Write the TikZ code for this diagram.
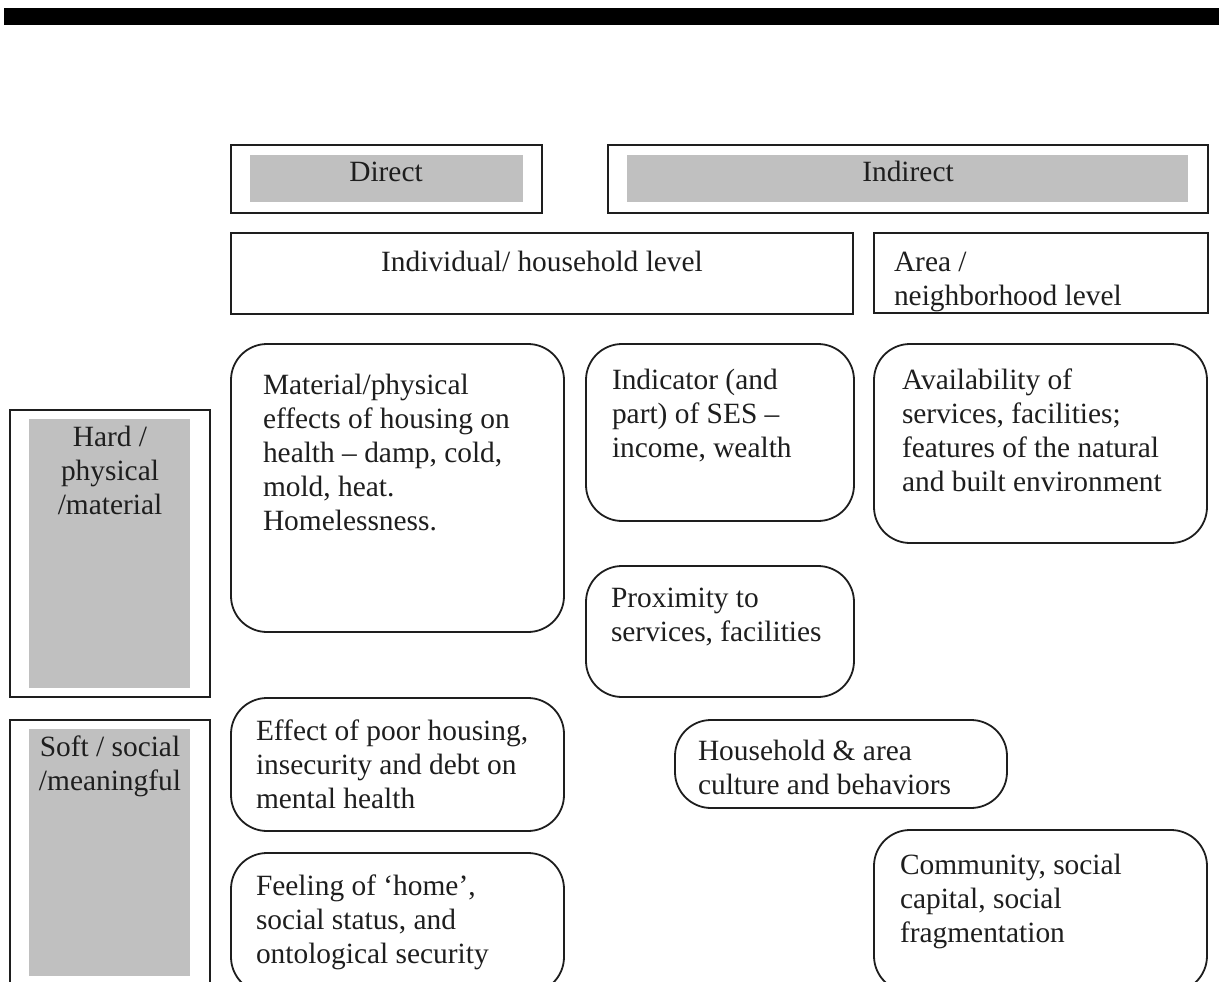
\documentclass[tikz,border=0pt]{standalone}
\usepackage{fontspec}
\setmainfont{Liberation Serif}
\definecolor{boxgray}{RGB}{192,192,192}
\definecolor{inkc}{RGB}{30,30,30}
\newcommand\mlL[1]{\begin{tabular}[t]{@{}l@{}}#1\end{tabular}}
\newcommand\mlC[1]{\begin{tabular}[t]{@{}c@{}}#1\end{tabular}}
\begin{document}
\begin{tikzpicture}[x=1pt,y=-1pt,
  sqbox/.style={draw=inkc,line width=2pt,inner sep=0pt,outer sep=0pt,anchor=north west},
  rbox/.style={draw=inkc,line width=1.8pt,rounded corners=36pt,inner sep=0pt,outer sep=0pt,anchor=north west},
  graybox/.style={fill=boxgray,draw=none,inner sep=0pt,outer sep=0pt,anchor=north west},
  bar/.style={fill=black,draw=none,inner sep=0pt,outer sep=0pt,anchor=north west},
  lbl/.style={inner sep=0pt,outer sep=0pt,text=inkc,font=\fontsize{29.4}{34}\selectfont,anchor=base west},
  clbl/.style={lbl,anchor=base}]
\useasboundingbox (0,0) rectangle (1219,982);
\clip (0,0) rectangle (1219,982);
\fill[white] (0,0) rectangle (1219,982);
% top bar
\node[bar,minimum width=1215pt,minimum height=17pt] (topbar) at (4,8) {};
% Direct / Indirect
\node[sqbox,minimum width=311pt,minimum height=68pt] (direct) at (231,145) {};
\node[graybox,minimum width=273pt,minimum height=47pt] (directg) at (250,155) {};
\node[clbl] (directt) at (386,181) {Direct};
\node[sqbox,minimum width=600pt,minimum height=68pt] (indirect) at (608,145) {};
\node[graybox,minimum width=561pt,minimum height=47pt] (indirectg) at (627,155) {};
\node[clbl] (indirectt) at (908,181) {Indirect};
% levels
\node[sqbox,minimum width=622pt,minimum height=81pt] (indiv) at (231,233) {};
\node[clbl] (indivt) at (542,271) {Individual/ household level};
\node[sqbox,minimum width=334pt,minimum height=80pt] (area) at (874,233) {};
\node[lbl] (areat) at (894,271) {\mlL{Area /\\neighborhood level}};
% left categories
\node[sqbox,minimum width=200pt,minimum height=287pt] (hard) at (10,410) {};
\node[graybox,minimum width=161pt,minimum height=269pt] (hardg) at (29,419) {};
\node[clbl] (hardt) at (110,446) {\mlC{Hard /\\physical\\/material}};
\node[sqbox,minimum width=200pt,minimum height=290pt] (soft) at (10,720) {};
\node[graybox,minimum width=161pt,minimum height=247pt] (softg) at (29,729) {};
\node[clbl] (softt) at (110,756) {\mlC{Soft / social\\/meaningful}};
% content boxes
\node[rbox,minimum width=333pt,minimum height=288pt] (mat) at (231,344) {};
\node[lbl] (matt) at (263,394) {\mlL{Material/physical\\effects of housing on\\health -- damp, cold,\\mold, heat.\\Homelessness.}};
\node[rbox,minimum width=268pt,minimum height=177pt] (ind) at (586,344) {};
\node[lbl] (indt) at (612,389) {\mlL{Indicator (and\\part) of SES --\\income, wealth}};
\node[rbox,minimum width=333pt,minimum height=199pt] (avail) at (874,344) {};
\node[lbl] (availt) at (902,389) {\mlL{Availability of\\services, facilities;\\features of the natural\\and built environment}};
\node[rbox,minimum width=268pt,minimum height=131pt] (prox) at (586,566) {};
\node[lbl] (proxt) at (611,607) {\mlL{Proximity to\\services, facilities}};
\node[rbox,minimum width=333pt,minimum height=133pt] (effect) at (231,698) {};
\node[lbl] (effectt) at (256,740) {\mlL{Effect of poor housing,\\insecurity and debt on\\mental health}};
\node[rbox,minimum width=332pt,minimum height=88pt] (house) at (675,720) {};
\node[lbl] (houset) at (698,760) {\mlL{Household \& area\\culture and behaviors}};
\node[rbox,minimum width=333pt,minimum height=140pt] (feel) at (231,853) {};
\node[lbl] (feelt) at (256,895) {\mlL{Feeling of ‘home’,\\social status, and\\ontological security}};
\node[rbox,minimum width=333pt,minimum height=162pt] (comm) at (874,830) {};
\node[lbl] (commt) at (900,874) {\mlL{Community, social\\capital, social\\fragmentation}};
\end{tikzpicture}
\end{document}
